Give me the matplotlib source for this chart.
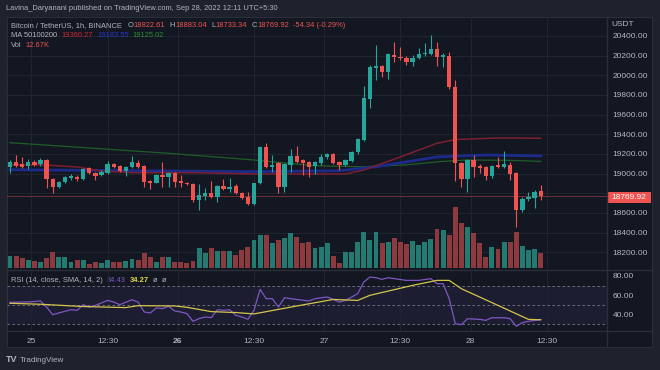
import numpy as np
import matplotlib.pyplot as plt
from matplotlib.patches import Rectangle
from matplotlib.lines import Line2D

plt.rcParams['font.family'] = ['Liberation Sans', 'DejaVu Sans']

# BTC/USDT 1h candles, index 0 = first visible candle
opens = [19071, 19116, 19095, 19078, 19122, 19095, 19139, 18943, 18868, 18912,
         18953, 18970, 18943, 19055, 19010, 18986, 19010, 19095, 19078, 19030,
         19065, 19112, 19081, 18929, 18908, 18986, 18963, 19004, 18929, 18908,
         18895, 18732, 18773, 18806, 18760, 18875, 18844, 18875, 18806, 18766,
         18688, 18902, 19268, 19071, 19105, 18868, 19088, 19183, 19139, 19116,
         19081, 19105, 19166, 19200, 19116, 19088, 19130, 19217, 19342, 19756,
         20072, 20095, 20037, 20207, 20190, 20180, 20139, 20180, 20214, 20217,
         20265, 20190, 20197, 19884, 19105, 18946, 19139, 19081, 19071, 18980,
         19088, 19071, 19088, 19004, 18630, 18740, 18750, 18822.61]
highs = [19139, 19190, 19166, 19150, 19135, 19160, 19150, 18960, 18930, 18975,
         18995, 18985, 19055, 19065, 19020, 19035, 19129, 19112, 19085, 19080,
         19183, 19139, 19090, 18935, 18995, 19122, 19020, 19015, 18986, 18920,
         18905, 18895, 18851, 18929, 18885, 18943, 18953, 18890, 18815, 18817,
         18910, 19281, 19315, 19190, 19115, 19105, 19248, 19281, 19150, 19125,
         19125, 19200, 19210, 19215, 19125, 19150, 19235, 19365, 19891, 20100,
         20308, 20110, 20225, 20342, 20290, 20200, 20210, 20278, 20326, 20415,
         20342, 20230, 20240, 19952, 19115, 19150, 19190, 19095, 19080, 19090,
         19170, 19233, 19122, 19015, 18765, 18817, 18830, 18883.04]
lows = [19004, 19065, 19055, 19050, 19075, 19080, 18851, 18806, 18850, 18900,
        18940, 18930, 18935, 18995, 18935, 18975, 19000, 19060, 19020, 18980,
        19055, 19060, 18868, 18841, 18900, 18868, 18861, 18861, 18868, 18880,
        18715, 18630, 18732, 18750, 18715, 18830, 18817, 18790, 18745, 18680,
        18680, 18895, 19060, 19020, 18806, 18817, 19020, 19105, 18986, 18969,
        19000, 19090, 19150, 19095, 19040, 19080, 19120, 19200, 19330, 19668,
        19952, 19980, 19960, 20135, 20156, 20100, 20095, 20165, 20200, 20205,
        20095, 20082, 19860, 18929, 18868, 18817, 18969, 19010, 18935, 18960,
        19060, 19060, 18935, 18461, 18610, 18725, 18650, 18733.34]
closes = [19116, 19078, 19071, 19122, 19088, 19139, 18943, 18868, 18912, 18963,
          18980, 18943, 19047, 19004, 18980, 19020, 19095, 19071, 19030, 19071,
          19116, 19071, 18918, 18902, 18986, 18963, 19004, 18918, 18908, 18892,
          18732, 18783, 18800, 18760, 18875, 18841, 18868, 18800, 18756, 18691,
          18902, 19268, 19071, 19088, 18868, 19095, 19183, 19122, 19105, 19071,
          19116, 19166, 19200, 19105, 19088, 19139, 19223, 19350, 19766, 20082,
          20095, 20037, 20214, 20190, 20173, 20139, 20180, 20217, 20230, 20265,
          20190, 20207, 19878, 19105, 18946, 19139, 19071, 19061, 18980, 19078,
          19071, 19098, 18997, 18630, 18740, 18766, 18817, 18769.92]
volume_k = [10.2, 10.2, 8.0, 6.6, 6.0, 5.2, 8.0, 13.0, 9.4, 8.9,
            5.2, 6.6, 6.6, 3.3, 5.2, 3.9, 6.6, 4.7, 5.2, 6.0,
            7.2, 6.6, 12.2, 8.9, 5.2, 8.9, 9.4, 5.2, 5.2, 4.4,
            6.0, 16.8, 12.7, 16.8, 14.1, 14.3, 14.1, 10.8, 14.9, 17.1,
            23.2, 27.3, 27.3, 20.5, 23.2, 25.1, 28.7, 25.4, 20.5, 21.3,
            16.3, 17.6, 20.5, 10.2, 4.4, 13.5, 13.5, 21.8, 29.6, 23.2,
            29.6, 20.5, 21.8, 25.1, 21.8, 19.9, 22.6, 19.0, 21.8, 24.0,
            32.3, 31.5, 27.3, 50.8, 37.0, 33.7, 28.7, 20.5, 9.4, 17.6,
            15.7, 21.8, 21.3, 29.6, 18.2, 14.9, 16.0, 12.67]

# moving averages (candle index, value)
ma50_idx = [0, 6, 11, 15, 20, 30, 40, 50, 55, 58, 64, 70, 73, 80, 87]
ma50_val = [19090, 19088, 19068, 19027, 19010, 19010, 18997, 18997, 18997,
            19037, 19170, 19309, 19347, 19363, 19360.27]
ma100_idx = [0, 20, 40, 54, 60, 65, 70, 78, 87]
ma100_val = [19040, 19030, 19020, 19030, 19070, 19120, 19170, 19190, 19180]
ma200_idx = [0, 26, 40, 50, 58, 65, 71, 75, 82, 87]
ma200_val = [19315, 19207, 19139, 19080, 19070, 19090, 19125, 19139, 19135, 19125.02]

rsi_idx = [0, 3, 5, 6, 7, 8, 10, 11, 12, 13, 14, 16, 17, 18, 20, 21, 22, 23, 24,
           25, 26, 27, 28, 29, 30, 31, 32, 33, 34, 35, 36, 37, 38, 39, 40, 41,
           42, 43, 44, 45, 46, 49, 50, 52, 53, 54, 55, 57, 58, 59, 60, 61, 62,
           63, 65, 67, 69, 70, 71, 72, 73, 74, 75, 77, 78, 79, 81, 82, 83, 84,
           85, 87]
rsi_val = [52.5, 52.9, 53.9, 47.6, 39.6, 41.4, 44.8, 44.1, 50.0, 47.6, 49.3,
           54.5, 52.8, 50.0, 55.2, 52.8, 42.4, 41.4, 46.6, 45.9, 48.3, 43.5,
           42.4, 40.7, 32.7, 35.5, 37.2, 36.5, 44.8, 44.1, 44.8, 38.9, 37.2,
           34.8, 44.1, 66.0, 56.3, 56.3, 47.6, 57.3, 56.3, 53.9, 56.3, 58.1,
           55.5, 52.8, 54.5, 61.5, 73.7, 78.9, 78.2, 76.5, 78.2, 77.2, 75.4,
           75.4, 77.2, 71.9, 71.9, 56.3, 30.2, 29.1, 35.4, 34.7, 33.7, 36.4,
           36.4, 35.4, 27.5, 31.3, 32.7, 34.43]
rsi_ma_idx = [0, 5, 12, 19, 21, 27, 29, 33, 37, 40, 45, 48, 53, 57, 59, 66, 70,
              72, 74, 80, 85, 87]
rsi_ma_val = [51.5, 50.5, 48.1, 47.0, 49.0, 48.7, 47.3, 42.8, 41.8, 40.4, 46.3,
              49.8, 55.5, 54.5, 59.8, 70.2, 75.4, 75.4, 66.7, 49.3, 34.7, 34.27]

price_ticks = list(range(18200, 20401, 200))
time_ticks = [3.5, 16, 27.5, 40, 51.5, 64, 75.5, 88]
time_labels = ["25", "12:30", "26", "12:30", "27", "12:30", "28", "12:30"]
last_price = 18769.92

OUTER = '#1e222d'
BG = '#131722'
SEP = '#2a2e39'
GRID = '#20242f'
TXT = '#b2b5be'
UP = '#26a69a'
DOWN = '#ef5350'

W, H = 660, 370
fig = plt.figure(figsize=(6.6, 3.7), dpi=100, facecolor=OUTER)


def box(x0, y0, x1, y1):
    return [x0 / W, 1 - y1 / H, (x1 - x0) / W, (y1 - y0) / H]


def fxy(x, y):
    return x / W, 1 - y / H


fig.add_artist(Rectangle(fxy(7, 347), 645 / W, 330 / H, transform=fig.transFigure,
                         facecolor=BG, edgecolor=SEP, lw=0.8, zorder=-1))

n = len(closes)
idx = np.arange(n)
o = np.array(opens); c = np.array(closes)
up = c >= o
col = np.where(up, UP, DOWN)

# ---- main price pane
ax = fig.add_axes(box(7, 17, 607, 268))
ax.set_facecolor('none')
ax.set_xlim(-0.49, 97.87)
ax.set_ylim(18040.6, 20593.2)
ax.set_axisbelow(True)
ax.grid(True, color=GRID, lw=0.8)
ax.set_xticks(time_ticks)
ax.set_yticks(price_ticks)
# 18800 sits under the last-price tag
ax.set_yticklabels(["" if v == 18800 else f"{v:.2f}" for v in price_ticks])
ax.yaxis.tick_right()
ax.tick_params(axis='y', length=0, pad=4, labelsize=6, colors=TXT)
ax.tick_params(axis='x', length=0, labelbottom=False)
for s in ax.spines.values():
    s.set_visible(False)

vol_span = 207.8
vol_col = np.where(up, '#237a71', '#8d3a3f')
ax.bar(idx, np.array(volume_k) / vol_span, width=0.8, color=vol_col,
       transform=ax.get_xaxis_transform(), zorder=1)

ax.plot(ma200_idx, ma200_val, color='#1f5e2a', lw=0.9, zorder=2)
ax.plot(ma100_idx, ma100_val, color='#1c2a8a', lw=2.0, zorder=2)
ax.plot(ma50_idx, ma50_val, color='#7c1f30', lw=1.1, zorder=2)
ax.axhline(last_price, color=DOWN, lw=0.6, alpha=0.5, zorder=2)

ax.vlines(idx, lows, highs, colors=col, lw=0.8, zorder=3)
body = np.maximum(np.abs(c - o), 12)
ax.bar(idx, body, bottom=np.minimum(o, c), width=0.7, color=col, zorder=4)

# ---- RSI pane
ar = fig.add_axes(box(7, 271, 607, 331))
ar.set_facecolor('none')
ar.set_xlim(-0.49, 97.87)
ar.set_ylim(22.56, 85.2)
ar.axhspan(30, 70, color='#7e57c2', alpha=0.1, lw=0)
for v in (30, 50, 70):
    ar.axhline(v, color='#787b86', ls=(0, (3, 3)), lw=0.6)
ar.grid(True, axis='x', color=GRID, lw=0.8)
ar.plot(rsi_idx, rsi_val, color='#7e57c2', lw=0.9)
ar.plot(rsi_ma_idx, rsi_ma_val, color='#d4c64a', lw=0.9)
ar.set_yticks([40, 60, 80])
ar.set_yticklabels(["40.00", "60.00", "80.00"])
ar.yaxis.tick_right()
ar.tick_params(axis='y', length=0, pad=4, labelsize=6, colors=TXT)
ar.set_xticks(time_ticks)
ar.set_xticklabels(time_labels)
ar.tick_params(axis='x', length=0, pad=5, labelsize=6, colors=TXT)
ar.get_xticklabels()[2].set_fontweight('bold')
for s in ar.spines.values():
    s.set_visible(False)

# pane separators
for (x0, y0, x1, y1) in [(7, 269.5, 652, 269.5), (7, 331, 652, 331), (607, 17, 607, 347)]:
    fig.add_artist(Line2D([x0 / W, x1 / W], [1 - y0 / H, 1 - y1 / H], color=SEP, lw=1.0,
                          transform=fig.transFigure))

# last price tag
fig.add_artist(Rectangle(fxy(607, 203), 44 / W, 11 / H, transform=fig.transFigure,
                         facecolor=DOWN, lw=0))
fig.text(*fxy(629, 197.5), "18769.92", color='white', fontsize=6, ha='center', va='center')
fig.text(*fxy(611, 24), "USDT", color=TXT, fontsize=6, ha='left', va='center')


def run(parts, x, y, size=5.4):
    # consecutive coloured text pieces on one row
    prev = fig.text(*fxy(x, y), parts[0][0], color=parts[0][1], fontsize=size,
                    fontweight=parts[0][2], ha='left', va='center')
    for s, colr, w, gap in parts[1:]:
        prev = ax.annotate(s, xy=(1, 0.5), xycoords=prev, xytext=(gap, 0),
                           textcoords='offset points', color=colr, fontsize=size,
                           fontweight=w, ha='left', va='center', annotation_clip=False)
    return prev


fig.text(*fxy(6, 9), "Lavina_Daryanani published on TradingView.com, Sep 28, 2022 12:11 UTC+5:30",
         color=TXT, fontsize=5.4, ha='left', va='center')
run([("Bitcoin / TetherUS, 1h, BINANCE", TXT, 'normal'),
     ("O", TXT, 'normal', 4), ("18822.61", DOWN, 'normal', 0.3),
     ("H", TXT, 'normal', 3), ("18883.04", DOWN, 'normal', 0.3),
     ("L", TXT, 'normal', 3), ("18733.34", DOWN, 'normal', 0.3),
     ("C", TXT, 'normal', 3), ("18769.92", DOWN, 'normal', 0.3),
     ("-54.34 (-0.29%)", DOWN, 'normal', 3)], 11, 25.5)
run([("MA 50100200", TXT, 'normal'),
     ("19360.27", '#c62833', 'normal', 3),
     ("19183.55", '#2436c8', 'normal', 3),
     ("19125.02", '#2e8b3a', 'normal', 3)], 11, 35.5)
run([("Vol", TXT, 'normal'), ("12.67K", DOWN, 'normal', 3)], 11, 45.5)
run([("RSI (14, close, SMA, 14, 2)", TXT, 'normal'),
     ("34.43", '#7e57c2', 'normal', 3),
     ("34.27", '#e8d84a', 'bold', 3),
     ("\u00f8", TXT, 'normal', 3), ("\u00f8", TXT, 'normal', 3)], 11, 280)

fig.text(*fxy(6, 360), "TV", color=TXT, fontsize=6.5, fontweight='bold', ha='left', va='center')
fig.text(*fxy(20, 360), "TradingView", color=TXT, fontsize=5.8, ha='left', va='center')

fig.savefig("out.png", dpi=100, facecolor=OUTER)
